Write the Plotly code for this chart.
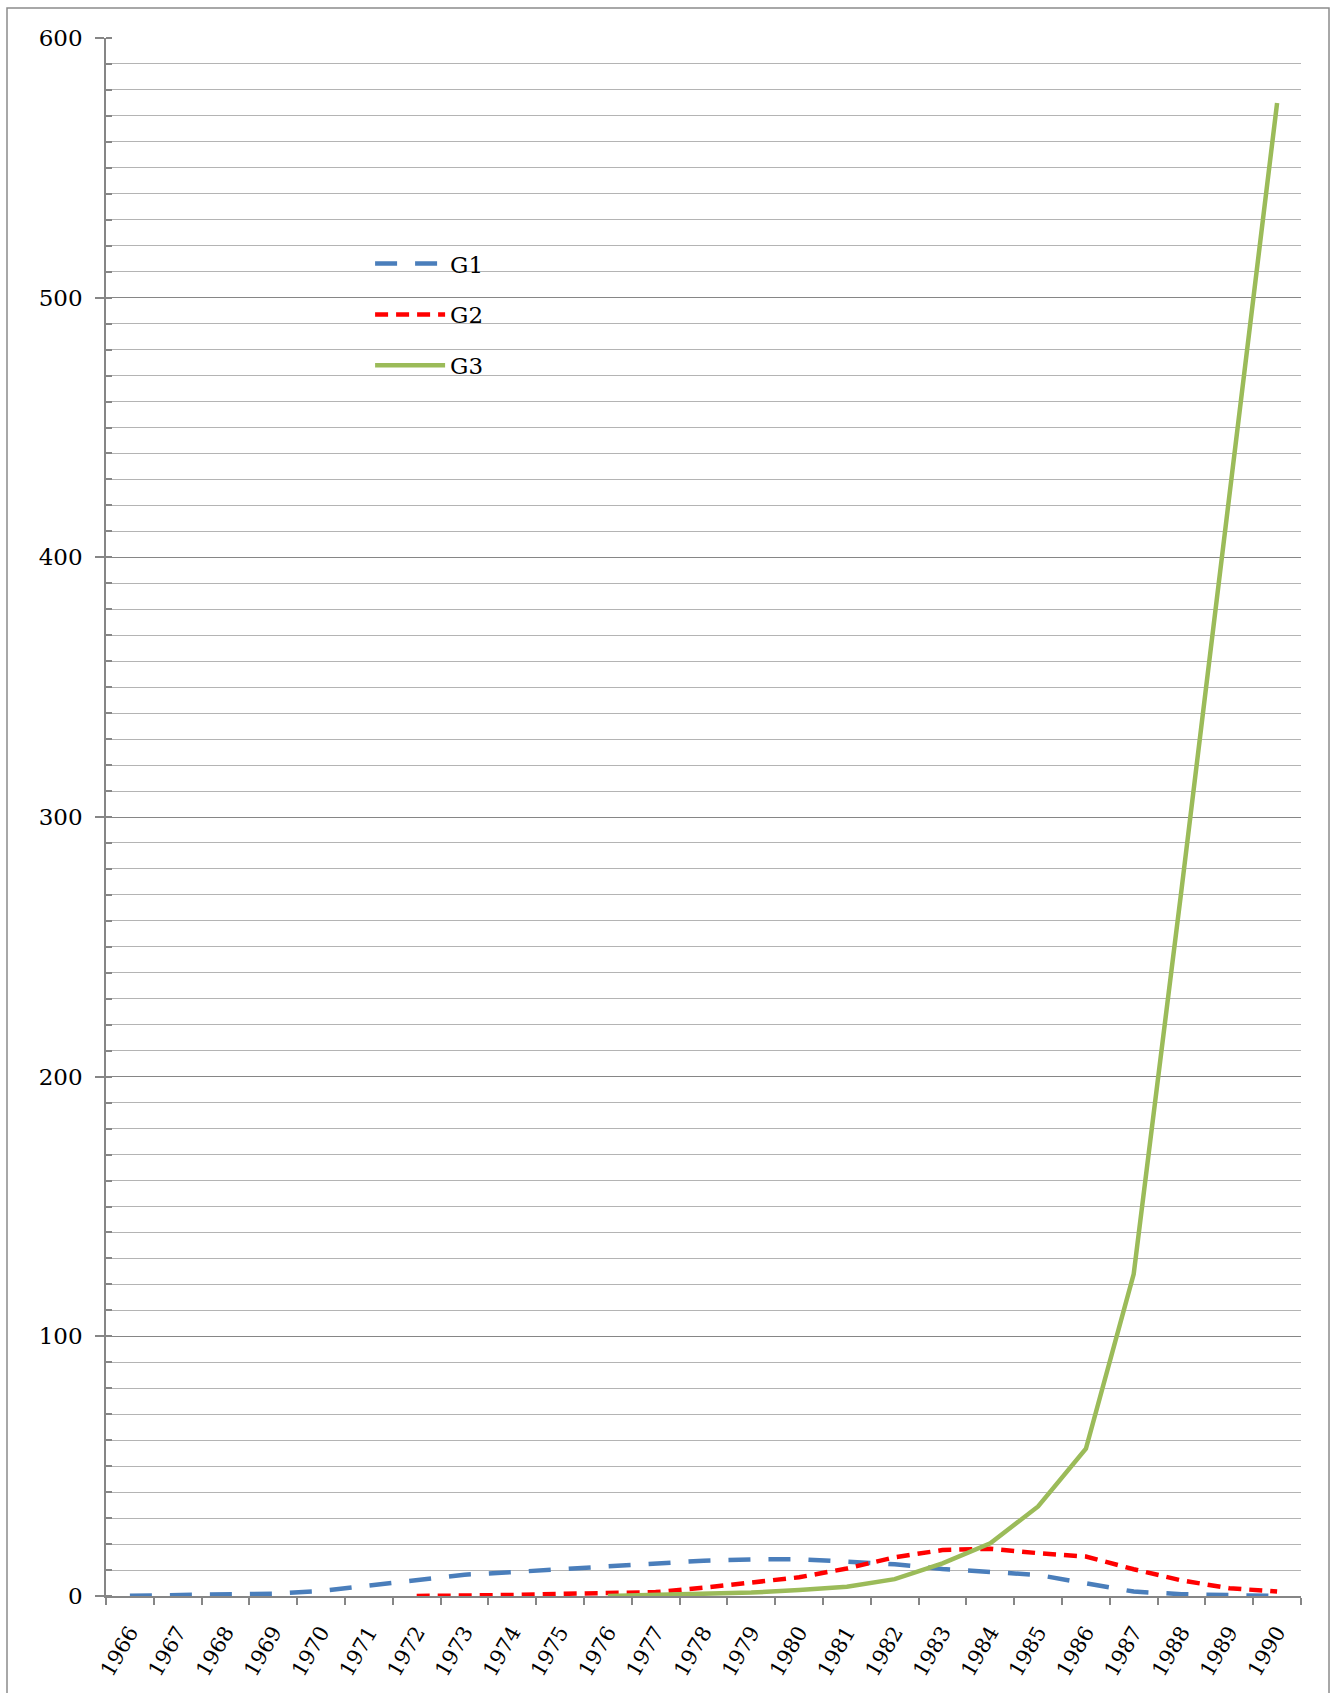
import plotly.graph_objects as go

years = [str(y) for y in range(1966, 1991)]

g1 = [0.1, 0.4, 0.4, 0.9, 1.9, 4.0, 6.4, 8.2, 9.2, 10.3, 11.3, 12.3, 13.6,
      14.1, 14.2, 13.2, 12.2, 10.4, 9.4, 8.1, 4.9, 1.7, 0.7, 0.2, 0.0]
g2 = [None] * 6 + [0.0, 0.1, 0.4, 0.8, 1.0, 1.5, 3.2, 5.0, 7.2, 10.6, 14.9,
                  17.7, 18.2, 16.5, 15.2, 10.3, 6.0, 3.0, 1.7]
g3 = [None] * 10 + [0.0, 0.3, 0.6, 1.3, 2.3, 3.6, 6.5, 12.6, 20.3, 34.5,
                    56.7, 124, 272, 425, 575]

y_ticks = [0, 100, 200, 300, 400, 500, 600]

FONT = "DejaVu Serif"
AXIS_GRAY = "#868686"
MINOR_GRAY = "#b4b4b4"

fig = go.Figure()
fig.add_trace(go.Scatter(x=years, y=g1, name="G1", mode="lines", legendgroup="a",
                         line=dict(color="#4a7ebb", width=4.5, dash="22px,18px")))
fig.add_trace(go.Scatter(x=years, y=g2, name="G2", mode="lines", legendgroup="b",
                         line=dict(color="#ff0000", width=4.5, dash="13px,8px")))
fig.add_trace(go.Scatter(x=years, y=g3, name="G3", mode="lines", legendgroup="c",
                         line=dict(color="#9bbb59", width=4.5)))

fig.update_layout(
    width=1335, height=1693,
    margin=dict(l=106, r=34, t=38, b=97),
    paper_bgcolor="white", plot_bgcolor="white",
    font=dict(family=FONT, color="black"),
    showlegend=True,
    legend=dict(x=0.221, y=0.869, xanchor="left", yanchor="top",
                font=dict(size=23, family=FONT), bgcolor="rgba(0,0,0,0)",
                itemwidth=70, tracegroupgap=18, traceorder="grouped"),
    shapes=[dict(type="rect", xref="paper", yref="paper",
                 x0=-99 / 1195, x1=1223 / 1195, y0=-120 / 1558, y1=1588 / 1558,
                 line=dict(color="#8c8c8c", width=1.5), layer="below")],
)

fig.update_xaxes(
    type="category", range=[-0.5, len(years) - 0.5],
    showgrid=False, showline=True, linecolor=AXIS_GRAY, linewidth=1.5,
    ticks="outside", ticklen=7, tickcolor=AXIS_GRAY, tickwidth=1.5, tickson="boundaries",
    tickangle=-60, tickfont=dict(size=21, family=FONT), ticklabelstandoff=14,
    zeroline=False,
)
fig.update_yaxes(
    range=[0, 600], tickvals=y_ticks, showline=True, linecolor=AXIS_GRAY, linewidth=1.5,
    showgrid=True, gridcolor=AXIS_GRAY, gridwidth=1.3,
    ticks="outside", ticklen=9, tickcolor=AXIS_GRAY, tickwidth=1.5,
    tickfont=dict(size=23, family=FONT), ticklabelstandoff=8, zeroline=False,
    minor=dict(dtick=10, showgrid=True, gridcolor=MINOR_GRAY, gridwidth=1.3,
               ticks="inside", ticklen=6, tickcolor=AXIS_GRAY),
)

fig.write_html("out.html")
